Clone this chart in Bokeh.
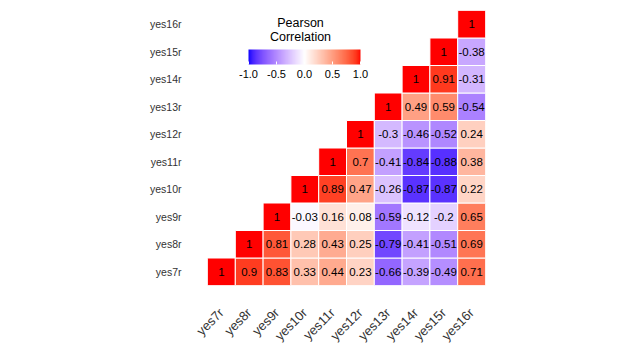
import math
from bokeh.plotting import figure
from bokeh.models import (ColumnDataSource, LinearColorMapper, ColorBar, FixedTicker,
                          PrintfTickFormatter, Label, FactorRange)
from bokeh.core.properties import value
from bokeh.embed import file_html
from bokeh.resources import INLINE

names = ["yes7r", "yes8r", "yes9r", "yes10r", "yes11r", "yes12r",
         "yes13r", "yes14r", "yes15r", "yes16r"]

# upper-triangle rows: correlations of row variable with itself and the later variables
r_yes7r = [1, 0.9, 0.83, 0.33, 0.44, 0.23, -0.66, -0.39, -0.49, 0.71]
r_yes8r = [1, 0.81, 0.28, 0.43, 0.25, -0.79, -0.41, -0.51, 0.69]
r_yes9r = [1, -0.03, 0.16, 0.08, -0.59, -0.12, -0.2, 0.65]
r_yes10r = [1, 0.89, 0.47, -0.26, -0.87, -0.87, 0.22]
r_yes11r = [1, 0.7, -0.41, -0.84, -0.88, 0.38]
r_yes12r = [1, -0.3, -0.46, -0.52, 0.24]
r_yes13r = [1, 0.49, 0.59, -0.54]
r_yes14r = [1, 0.91, -0.31]
r_yes15r = [1, -0.38]
r_yes16r = [1]
rows = [r_yes7r, r_yes8r, r_yes9r, r_yes10r, r_yes11r, r_yes12r,
        r_yes13r, r_yes14r, r_yes15r, r_yes16r]

legend_ticks = [-1.0, -0.5, 0.0, 0.5, 1.0]

# ---- Lab interpolation palette (blue - white - red) ----
def srgb_to_lab(c):
    def lin(u):
        u = u / 255.0
        return u / 12.92 if u <= 0.04045 else ((u + 0.055) / 1.055) ** 2.4
    r, g, b = [lin(v) for v in c]
    X = (0.4124 * r + 0.3576 * g + 0.1805 * b) / 0.95047
    Y = (0.2126 * r + 0.7152 * g + 0.0722 * b)
    Z = (0.0193 * r + 0.1192 * g + 0.9505 * b) / 1.08883
    def f(t):
        return t ** (1 / 3) if t > 0.008856 else 7.787 * t + 16 / 116
    fx, fy, fz = f(X), f(Y), f(Z)
    return (116 * fy - 16, 500 * (fx - fy), 200 * (fy - fz))

def lab_to_hex(L, a, b):
    fy = (L + 16) / 116
    fx = fy + a / 500
    fz = fy - b / 200
    def finv(t):
        return t ** 3 if t ** 3 > 0.008856 else (t - 16 / 116) / 7.787
    X, Y, Z = finv(fx) * 0.95047, finv(fy), finv(fz) * 1.08883
    r = 3.2406 * X - 1.5372 * Y - 0.4986 * Z
    g = -0.9689 * X + 1.8758 * Y + 0.0415 * Z
    bb = 0.0557 * X - 0.2040 * Y + 1.0570 * Z
    def gam(u):
        u = max(0.0, min(1.0, u))
        return 12.92 * u if u <= 0.0031308 else 1.055 * u ** (1 / 2.4) - 0.055
    return "#%02x%02x%02x" % tuple(int(round(gam(v) * 255)) for v in (r, g, bb))

blue = srgb_to_lab((0, 0, 255))
white = srgb_to_lab((255, 255, 255))
red = srgb_to_lab((255, 0, 0))
palette = []
n = 128
for i in range(n):
    t = i / (n - 1)
    palette.append(lab_to_hex(*[blue[k] + (white[k] - blue[k]) * t for k in range(3)]))
for i in range(1, n):
    t = i / (n - 1)
    palette.append(lab_to_hex(*[white[k] + (red[k] - white[k]) * t for k in range(3)]))

mapper = LinearColorMapper(palette=palette, low=-1, high=1)

xs, ys, vals, labels = [], [], [], []
for i, row in enumerate(rows):
    for j, v in enumerate(row):
        xs.append(names[i + j])
        ys.append(names[i])
        vals.append(v)
        labels.append(f"{v:g}")

src = ColumnDataSource(dict(x=xs, y=ys, v=vals, label=labels))

p = figure(width=639, height=351, output_backend="svg", toolbar_location=None,
           x_range=FactorRange(factors=names), y_range=FactorRange(factors=names),
           min_border_left=207, min_border_right=154, min_border_top=10, min_border_bottom=64)
p.outline_line_color = None
p.grid.grid_line_color = None
p.background_fill_color = "white"

p.rect(x="x", y="y", width=1, height=1, source=src,
       fill_color={"field": "v", "transform": mapper},
       line_color="white", line_width=1)
p.text(x="x", y="y", text="label", source=src, text_align="center",
       text_baseline="middle", text_font=value("Liberation Sans"),
       text_font_size="11.5px", text_color="black")

for ax in (p.xaxis, p.yaxis):
    ax.axis_line_color = None
    ax.major_tick_line_color = None
    ax.minor_tick_line_color = None
    ax.major_label_text_font = "Liberation Sans"
    ax.major_label_text_color = "#333333"
p.yaxis.major_label_text_font_size = "10.5px"
p.yaxis.major_label_standoff = 20
p.xaxis.major_label_text_font_size = "13px"
p.xaxis.major_label_orientation = math.pi / 4
p.xaxis.major_label_standoff = 19

cb = ColorBar(color_mapper=mapper, orientation="horizontal", width=112, height=15,
              location=(41, 205), padding=0,
              ticker=FixedTicker(ticks=legend_ticks),
              formatter=PrintfTickFormatter(format="%.1f"),
              major_label_text_font="Liberation Sans", major_label_text_font_size="11px",
              major_label_text_color="black",
              major_tick_line_color="white", major_tick_in=3, major_tick_out=0,
              minor_tick_line_color=None, bar_line_color=None,
              background_fill_alpha=0, border_line_color=None)
p.add_layout(cb, "center")

for txt, yy in (("Pearson", 263), ("Correlation", 249)):
    p.add_layout(Label(x=93, y=yy, x_units="screen", y_units="screen", text=txt,
                       text_align="center", text_baseline="middle",
                       text_font="Liberation Sans", text_font_size="12.5px",
                       text_color="black"))

open("out.html", "w").write(file_html(p, INLINE))
